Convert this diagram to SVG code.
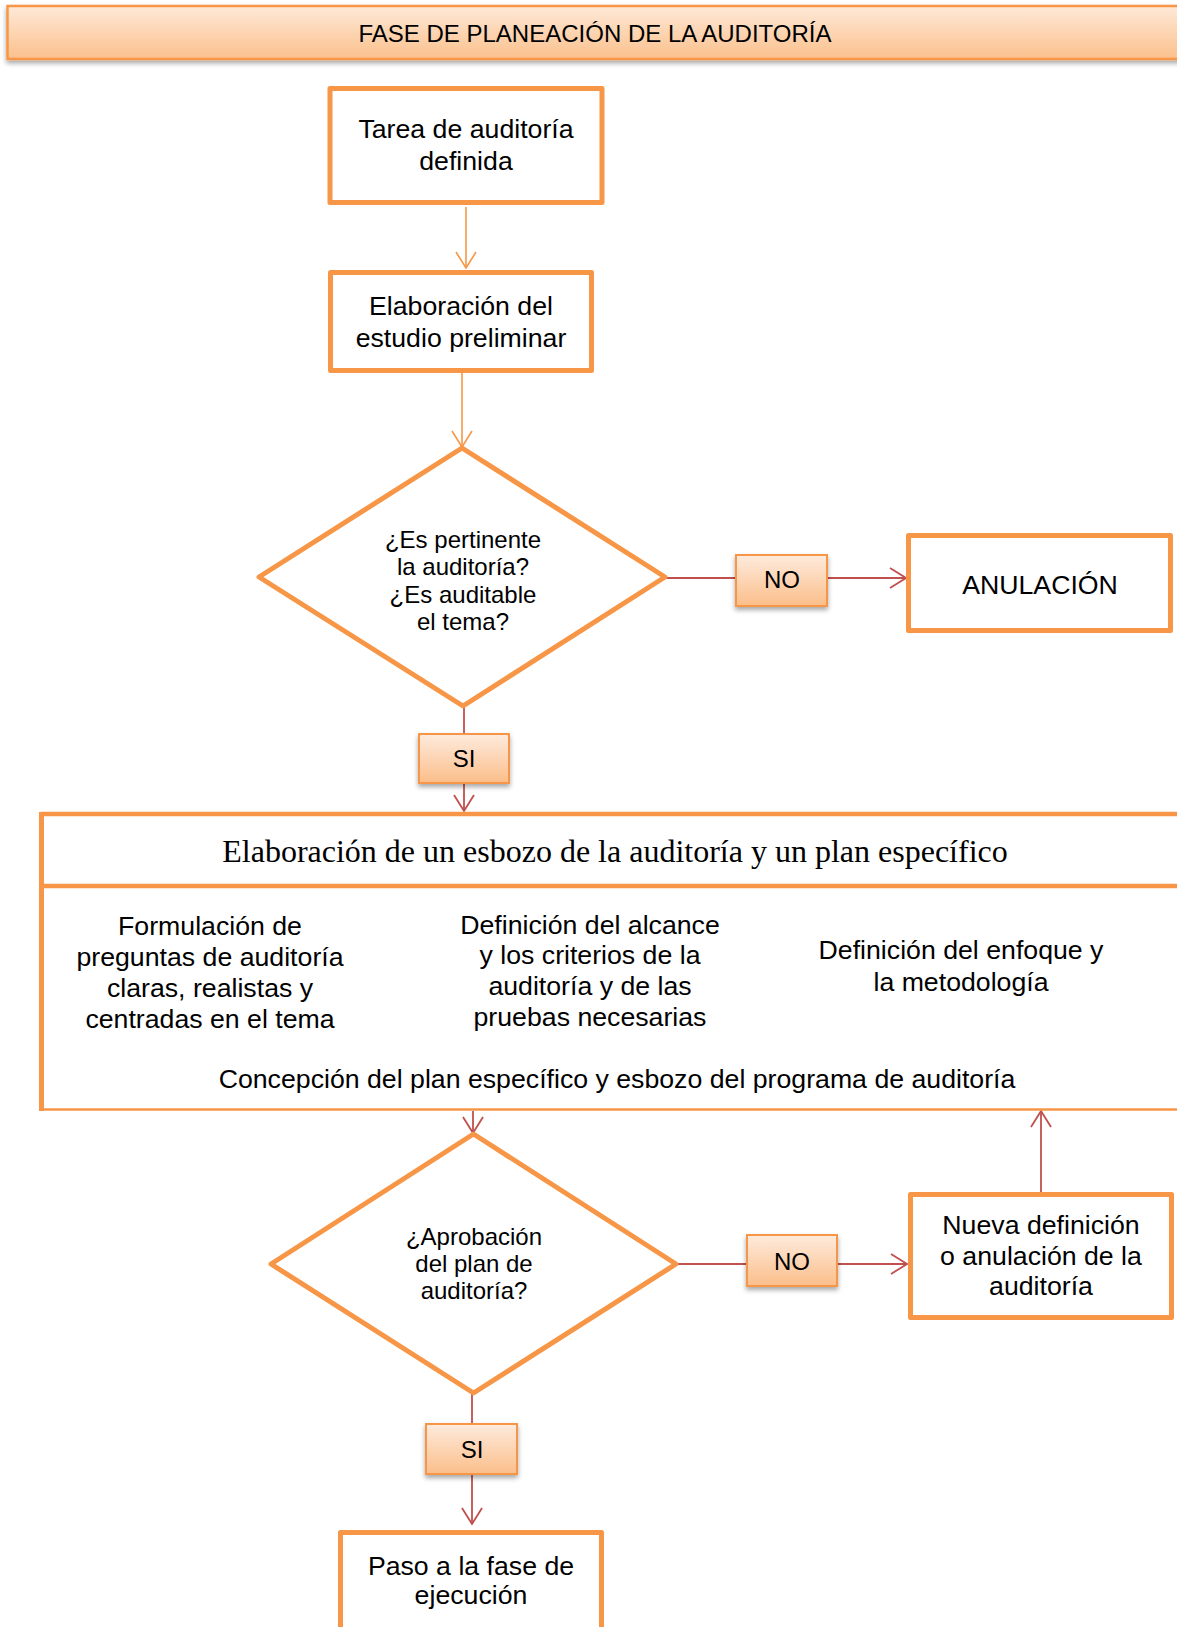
<svg xmlns="http://www.w3.org/2000/svg" width="1177" height="1627" viewBox="0 0 1177 1627">
<defs>
<linearGradient id="lblGrad" x1="0" y1="0" x2="0" y2="1">
<stop offset="0" stop-color="#FEEBDD"/>
<stop offset="1" stop-color="#FBBE8A"/>
</linearGradient>
<linearGradient id="hdrGrad" x1="0" y1="0" x2="0" y2="1">
<stop offset="0" stop-color="#FEE9D8"/>
<stop offset="1" stop-color="#FBC08C"/>
</linearGradient>
<filter id="shadow" x="-20%" y="-20%" width="140%" height="160%">
<feDropShadow dx="0" dy="3" stdDeviation="2.5" flood-color="#000" flood-opacity="0.35"/>
</filter>
<marker id="arrOrange" viewBox="0 0 18 22" refX="17" refY="11" markerWidth="18" markerHeight="22" markerUnits="userSpaceOnUse" orient="auto">
<path d="M1,1 L17,11 L1,21" fill="none" stroke="#F79646" stroke-width="1.6"/>
</marker>
<marker id="arrRed" viewBox="0 0 18 22" refX="17" refY="11" markerWidth="18" markerHeight="22" markerUnits="userSpaceOnUse" orient="auto">
<path d="M1,1 L17,11 L1,21" fill="none" stroke="#C0504D" stroke-width="1.8"/>
</marker>
</defs>
<style>
.box{fill:#fff;stroke:#F79646;stroke-width:5;stroke-linejoin:round}
.lbl{fill:url(#lblGrad);stroke:#F79646;stroke-width:2;filter:url(#shadow)}
.t{font-family:"Liberation Sans",Arial,sans-serif;fill:#000;text-anchor:middle}
.big{font-size:26.7px}
.mid{font-size:24px}
.lt{font-size:24px}
.serif{font-family:"Liberation Serif","Times New Roman",serif;fill:#000;text-anchor:middle;font-size:32px}
.co{stroke:#F79646;stroke-width:1.6;fill:none}
.cr{stroke:#C0504D;stroke-width:1.8;fill:none}
</style>
<rect width="1177" height="1627" fill="#fff"/>

<g id="header">
<rect x="7.5" y="6" width="1180" height="53" fill="url(#hdrGrad)" stroke="#F79646" stroke-width="2.5" filter="url(#shadow)"/>
<text class="t mid" x="595" y="42">FASE DE PLANEACIÓN DE LA AUDITORÍA</text>
</g>

<g id="connectors">
<line class="co" x1="466" y1="207" x2="466" y2="268" marker-end="url(#arrOrange)"/>
<line class="co" x1="462" y1="373" x2="462" y2="447" marker-end="url(#arrOrange)"/>
<line class="cr" x1="464" y1="707" x2="464" y2="734"/>
<line class="cr" x1="464" y1="784" x2="464" y2="811" marker-end="url(#arrRed)"/>
<line class="cr" x1="665" y1="578" x2="736" y2="578"/>
<line class="cr" x1="827" y1="578" x2="906" y2="578" marker-end="url(#arrRed)"/>
<line class="cr" x1="473" y1="1111" x2="473" y2="1133" marker-end="url(#arrRed)"/>
<line class="cr" x1="676" y1="1264" x2="747" y2="1264"/>
<line class="cr" x1="837" y1="1264" x2="907" y2="1264" marker-end="url(#arrRed)"/>
<line class="cr" x1="1041" y1="1192" x2="1041" y2="1111" marker-end="url(#arrRed)"/>
<line class="cr" x1="472" y1="1394" x2="472" y2="1424"/>
<line class="cr" x1="472" y1="1474" x2="472" y2="1524" marker-end="url(#arrRed)"/>
</g>

<g id="tarea">
<rect class="box" x="330" y="88.5" width="272" height="114"/>
<text class="t big" x="466" y="138">Tarea de auditoría</text>
<text class="t big" x="466" y="170">definida</text>
</g>

<g id="estudio">
<rect class="box" x="330.5" y="272.5" width="261" height="98"/>
<text class="t big" x="461" y="315">Elaboración del</text>
<text class="t big" x="461" y="347">estudio preliminar</text>
</g>

<g id="decision1">
<polygon class="box" points="462,448 665,577 463,706 259,577"/>
<text class="t mid" x="463" y="548">¿Es pertinente</text>
<text class="t mid" x="463" y="575">la auditoría?</text>
<text class="t mid" x="463" y="603">¿Es auditable</text>
<text class="t mid" x="463" y="630">el tema?</text>
</g>

<g id="no1">
<rect class="lbl" x="736" y="555" width="91" height="51"/>
<text class="t lt" x="782" y="588">NO</text>
</g>

<g id="anulacion">
<rect class="box" x="908.5" y="535.5" width="262" height="95"/>
<text class="t big" x="1040" y="594">ANULACIÓN</text>
</g>

<g id="si1">
<rect class="lbl" x="419" y="734" width="90" height="49"/>
<text class="t lt" x="464" y="767">SI</text>
</g>

<g id="plan">
<line x1="41" y1="814" x2="1180" y2="814" stroke="#F79646" stroke-width="4.5"/>
<line x1="41" y1="886" x2="1180" y2="886" stroke="#F79646" stroke-width="4.5"/>
<line x1="41" y1="1109.5" x2="1180" y2="1109.5" stroke="#F79646" stroke-width="2.5"/>
<line x1="41.5" y1="812" x2="41.5" y2="1111" stroke="#F79646" stroke-width="5"/>
<text class="serif" x="615" y="862">Elaboración de un esbozo de la auditoría y un plan específico</text>
<text class="t big" x="210" y="935">Formulación de</text>
<text class="t big" x="210" y="966">preguntas de auditoría</text>
<text class="t big" x="210" y="997">claras, realistas y</text>
<text class="t big" x="210" y="1028">centradas en el tema</text>
<text class="t big" x="590" y="934">Definición del alcance</text>
<text class="t big" x="590" y="964">y los criterios de la</text>
<text class="t big" x="590" y="995">auditoría y de las</text>
<text class="t big" x="590" y="1026">pruebas necesarias</text>
<text class="t big" x="961" y="959">Definición del enfoque y</text>
<text class="t big" x="961" y="991">la metodología</text>
<text class="t big" x="617" y="1088">Concepción del plan específico y esbozo del programa de auditoría</text>
</g>

<g id="decision2">
<polygon class="box" points="473.5,1134 676,1264 473.5,1393 271,1264"/>
<text class="t mid" x="474" y="1245">¿Aprobación</text>
<text class="t mid" x="474" y="1272">del plan de</text>
<text class="t mid" x="474" y="1299">auditoría?</text>
</g>

<g id="no2">
<rect class="lbl" x="747" y="1235" width="90" height="51"/>
<text class="t lt" x="792" y="1270">NO</text>
</g>

<g id="nueva">
<rect class="box" x="910.5" y="1194.5" width="261" height="123"/>
<text class="t big" x="1041" y="1234">Nueva definición</text>
<text class="t big" x="1041" y="1265">o anulación de la</text>
<text class="t big" x="1041" y="1295">auditoría</text>
</g>

<g id="si2">
<rect class="lbl" x="426" y="1424" width="91" height="50"/>
<text class="t lt" x="472" y="1458">SI</text>
</g>

<g id="ejecucion">
<rect class="box" x="340.5" y="1532.5" width="261" height="110"/>
<text class="t big" x="471" y="1575">Paso a la fase de</text>
<text class="t big" x="471" y="1604">ejecución</text>
</g>
</svg>
